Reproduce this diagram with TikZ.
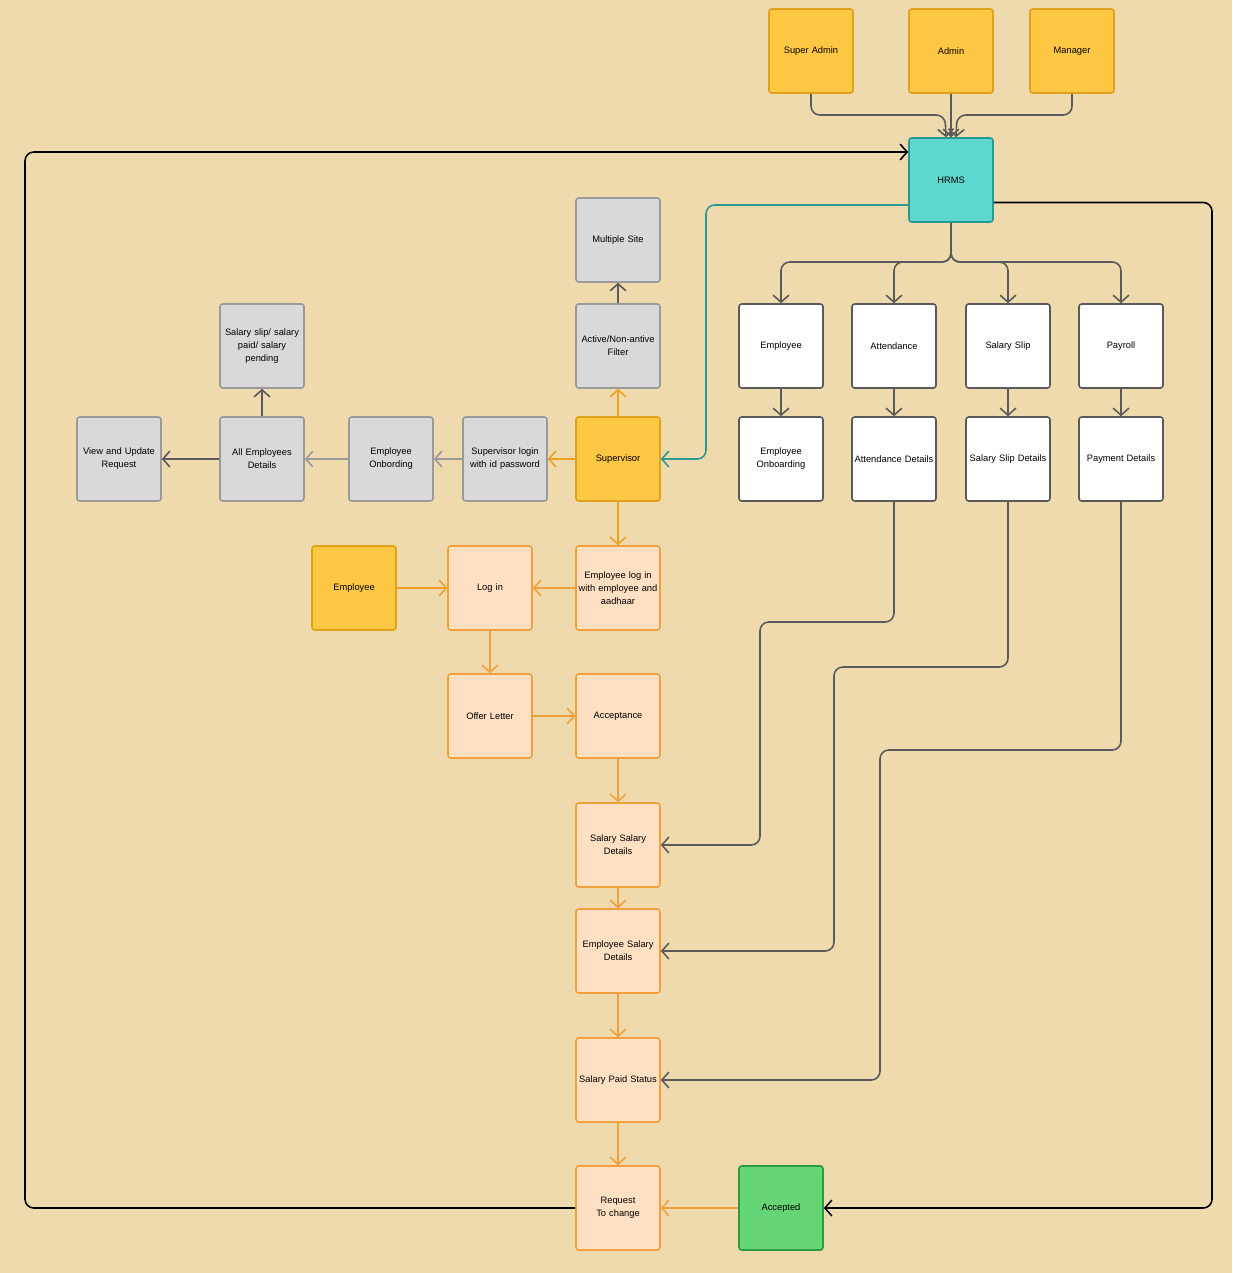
\documentclass[tikz,border=0pt]{standalone}
\usepackage{fontspec}
\setmainfont{Liberation Sans}
\usetikzlibrary{arrows.meta,positioning}
\definecolor{bgcol}{HTML}{EFDAAE}
\definecolor{yelfill}{HTML}{FFC844}
\definecolor{yeldraw}{HTML}{E0A11B}
\definecolor{tealfill}{HTML}{5ED8CE}
\definecolor{tealdraw}{HTML}{2A9A90}
\definecolor{grayfill}{HTML}{D9D9D9}
\definecolor{graydraw}{HTML}{9A9A9A}
\definecolor{peachfill}{HTML}{FFE0C2}
\definecolor{peachdraw}{HTML}{F2A03D}
\definecolor{greenfill}{HTML}{66D575}
\definecolor{greendraw}{HTML}{2E9A40}
\definecolor{darkline}{HTML}{5A5A5A}
\definecolor{orangeline}{HTML}{EFA020}
\tikzset{
    box/.style={rectangle,rounded corners=1.5pt,minimum size=1.68cm,inner xsep=0pt,text width=1.6cm,align=center,
        line width=0.9pt,font=\fontsize{5.3}{7.5}\selectfont},
    yellow box/.style={box,fill=yelfill,draw=yeldraw},
    teal box/.style={box,fill=tealfill,draw=tealdraw},
    gray box/.style={box,fill=grayfill,draw=graydraw},
    white box/.style={box,fill=white,draw=darkline},
    peach box/.style={box,fill=peachfill,draw=peachdraw},
    green box/.style={box,fill=greenfill,draw=greendraw},
    arr/.style={-{Straight Barb[length=4pt,width=9pt]},line width=0.9pt,rounded corners=5pt},
    darr/.style={arr,darkline},
    oarr/.style={arr,orangeline},
    parr/.style={arr,peachdraw},
    larr/.style={arr,graydraw},
}
\begin{document}
\begin{tikzpicture}[x=0.02cm,y=-0.02cm]
    \fill[bgcol] (0,0) rectangle (1232,1273);
    \useasboundingbox (0,0) rectangle (1232,1273);

    % top roles
    \node[yellow box] (sadmin) at (811,51) {Super Admin};
    \node[yellow box] (admin) at (951,51) {Admin};
    \node[yellow box] (manager) at (1072,51) {Manager};
    \node[teal box] (hrms) at (951,180) {HRMS};

    % supervisor branch
    \node[gray box] (multi) at (618,240) {Multiple Site};
    \node[gray box] (filter) at (618,346) {Active/Non-antive\\ Filter};
    \node[gray box] (slip) at (262,346) {Salary slip/ salary\\ paid/ salary\\ pending};
    \node[gray box] (view) at (119,459) {View and Update\\ Request};
    \node[gray box] (allemp) at (262,459) {All Employees\\ Details};
    \node[gray box] (onbord) at (391,459) {Employee\\ Onbording};
    \node[gray box] (suplog) at (505,459) {Supervisor login\\ with id password};
    \node[yellow box] (sup) at (618,459) {Supervisor};

    % modules
    \node[white box] (emp) at (781,346) {Employee};
    \node[white box] (att) at (894,346) {Attendance};
    \node[white box] (sslip) at (1008,346) {Salary Slip};
    \node[white box] (payroll) at (1121,346) {Payroll};
    \node[white box] (empon) at (781,459) {Employee\\ Onboarding};
    \node[white box] (attdet) at (894,459) {Attendance Details};
    \node[white box] (slipdet) at (1008,459) {Salary Slip Details};
    \node[white box] (paydet) at (1121,459) {Payment Details};

    % employee flow
    \node[yellow box] (empy) at (354,588) {Employee};
    \node[peach box] (login) at (490,588) {Log in};
    \node[peach box] (emplog) at (618,588) {Employee log in\\ with employee and\\ aadhaar};
    \node[peach box] (offer) at (490,716) {Offer Letter};
    \node[peach box] (accept) at (618,716) {Acceptance};
    \node[peach box] (ssdet) at (618,845) {Salary Salary\\ Details};
    \node[peach box] (esdet) at (618,951) {Employee Salary\\ Details};
    \node[peach box] (paid) at (618,1080) {Salary Paid Status};
    \node[peach box] (reqch) at (618,1208) {Request To change};
    \node[green box] (accepted) at (781,1208) {Accepted};

    % roles to hrms
    \draw[darr] (sadmin.south) |- (945,115) -- ([xshift=-0.1cm]hrms.north);
    \draw[darr] (admin) -- (hrms);
    \draw[darr] (manager.south) |- (957,115) -- ([xshift=0.1cm]hrms.north);

    % hrms out
    \draw[arr,tealdraw] ([yshift=-0.5cm]hrms.west) -| (706,300) |- (sup.east);
    \foreach \m in {emp,att,sslip,payroll}
        \draw[darr] (hrms.south) -- (951,262) -| (\m.north);
    \draw[arr,black] ([yshift=-0.45cm]hrms.east) -| (1212,700) |- (accepted.east);
    \draw[arr,black] (reqch.west) -| (25,700) |- ([yshift=0.56cm]hrms.west);

    \draw[darr] (emp) -- (empon);
    \draw[darr] (att) -- (attdet);
    \draw[darr] (sslip) -- (slipdet);
    \draw[darr] (payroll) -- (paydet);

    % supervisor
    \draw[oarr] (sup) -- (filter);
    \draw[darr] (filter) -- (multi);
    \draw[oarr] (sup) -- (suplog);
    \draw[larr] (suplog) -- (onbord);
    \draw[larr] (onbord) -- (allemp);
    \draw[darr] (allemp) -- (view);
    \draw[darr] (allemp) -- (slip);
    \draw[oarr] (sup) -- (emplog);

    % employee flow
    \draw[parr] (emplog) -- (login);
    \draw[oarr] (empy) -- (login);
    \draw[parr] (login) -- (offer);
    \draw[parr] (offer) -- (accept);
    \draw[parr] (accept) -- (ssdet);
    \draw[parr] (ssdet) -- (esdet);
    \draw[parr] (esdet) -- (paid);
    \draw[parr] (paid) -- (reqch);
    \draw[parr] (accepted) -- (reqch);

    % details into salary flow
    \draw[darr] (attdet.south) |- (760,622) |- (ssdet.east);
    \draw[darr] (slipdet.south) |- (834,667) |- (esdet.east);
    \draw[darr] (paydet.south) |- (880,750) |- (paid.east);
\end{tikzpicture}
\end{document}
